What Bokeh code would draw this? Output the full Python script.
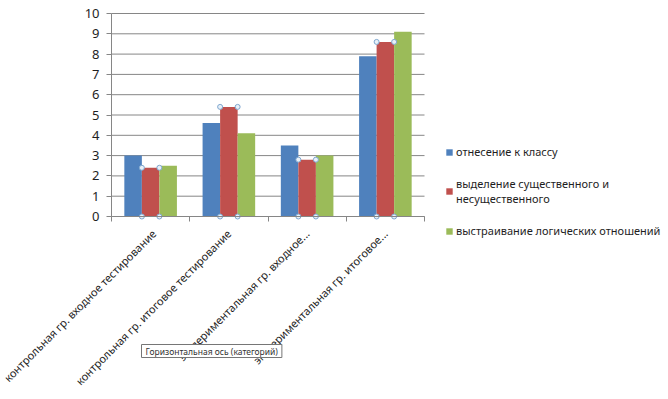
import numpy as np
from bokeh.plotting import figure
from bokeh.models import (ColumnDataSource, FixedTicker, Legend, LegendItem, Label, Range1d)
from bokeh.embed import file_html
from bokeh.resources import INLINE

# ---- data ----
categories = [
    "контрольная гр. входное тестирование",
    "контрольная гр. итоговое тестирование",
    "экспериментальная гр. входное...",
    "экспериментальная гр. итоговое...",
]
series_names = [
    "отнесение к классу",
    "выделение существенного и\nнесущественного",
    "выстраивание логических отношений",
]
s_class = [3.0, 4.6, 3.5, 7.9]
s_essential = [2.4, 5.4, 2.8, 8.6]
s_logic = [2.5, 4.1, 3.0, 9.1]
colors = ["#4F81BD", "#C0504D", "#9BBB59"]
y_ticks = [0, 1, 2, 3, 4, 5, 6, 7, 8, 9, 10]
tooltip_text = "Горизонтальная ось (категорий)"

FONT = "Noto Sans"
TXT = "#1e1e1e"
GRID = "#868686"

W, H = 668, 399
n = len(categories)
ymax = y_ticks[-1]
# plot-area placement inside the canvas (pixels)
left_px, top_px, axis_px = 111, 13, 216
xscale = 78.25
yscale = (axis_px - top_px) / ymax

centers = np.arange(n) + 0.5
bw = 0.224
offsets = [-bw, 0.0, bw]
series = [s_class, s_essential, s_logic]

p = figure(width=W, height=H, output_backend="svg", toolbar_location=None,
           x_range=Range1d(-left_px / xscale, (W - left_px) / xscale),
           y_range=Range1d(-(H - axis_px) / yscale, ymax + top_px / yscale),
           min_border=0)
p.outline_line_color = None
p.background_fill_color = "white"
p.border_fill_color = "white"
p.xgrid.visible = False
p.ygrid.visible = False

# horizontal gridlines across the plot area only
p.segment(x0=[0] * len(y_ticks), x1=[n] * len(y_ticks), y0=y_ticks, y1=y_ticks,
          line_color=GRID, line_width=1)

renderers = []
for vals, off, col in zip(series, offsets, colors):
    src = ColumnDataSource(dict(x=centers + off, top=vals))
    r = p.vbar(x="x", top="top", width=bw, source=src, fill_color=col, line_color=None)
    renderers.append(r)

# selection handles on the selected (red) series
hx = np.concatenate([centers - bw / 2, centers + bw / 2, centers - bw / 2, centers + bw / 2])
hy = np.concatenate([s_essential, s_essential, np.zeros(n), np.zeros(n)])
p.scatter(hx, hy, marker="circle", size=5, fill_color="#e8f0f8", line_color="#7fa7cf", line_width=1)

# axes
ya = p.yaxis[0]
ya.fixed_location = 0
ya.bounds = (0, ymax)
ya.ticker = FixedTicker(ticks=y_ticks)
ya.axis_line_color = GRID
ya.major_tick_line_color = GRID
ya.major_tick_out = 5
ya.major_tick_in = 0
ya.minor_tick_line_color = None
ya.major_label_standoff = 7
ya.major_label_text_font = FONT
ya.major_label_text_font_size = "13px"
ya.major_label_text_color = TXT

xa = p.xaxis[0]
xa.fixed_location = 0
xa.bounds = (0, n)
xa.ticker = FixedTicker(ticks=list(centers), minor_ticks=list(np.arange(n + 1)))
xa.major_label_overrides = {float(c): lab for c, lab in zip(centers, categories)}
xa.axis_line_color = GRID
xa.major_tick_out = 0
xa.major_tick_in = 0
xa.major_tick_line_color = None
xa.minor_tick_line_color = GRID
xa.minor_tick_out = 5
xa.minor_tick_in = 0
xa.major_label_orientation = np.pi / 4
xa.major_label_standoff = 10
xa.major_label_text_font = FONT
xa.major_label_text_font_size = "11px"
xa.major_label_text_color = TXT

legend = Legend(items=[LegendItem(label=nm, renderers=[r]) for nm, r in zip(series_names, renderers)],
                location=(445, 160), padding=0, margin=0, spacing=16,
                glyph_width=8, glyph_height=8, label_standoff=3, label_height=17,
                label_text_font=FONT, label_text_font_size="11px", label_text_color=TXT,
                border_line_alpha=0, background_fill_alpha=0)
p.add_layout(legend, "center")

# hover tooltip box seen in the screenshot
shadow = Label(x=143, y=53, x_units="screen", y_units="screen", text=tooltip_text,
               text_font=FONT, text_font_size="8.5px", text_alpha=0, text_baseline="top",
               background_fill_color="#a0a0a0", background_fill_alpha=0.5, padding=(4, 1))
box = Label(x=141, y=55, x_units="screen", y_units="screen", text=tooltip_text,
            text_font=FONT, text_font_size="8.5px", text_color="#333333", text_baseline="top",
            background_fill_color="white", border_line_color="#767676", padding=(4, 1))
p.add_layout(shadow)
p.add_layout(box)

open("out.html", "w").write(file_html(p, INLINE))
